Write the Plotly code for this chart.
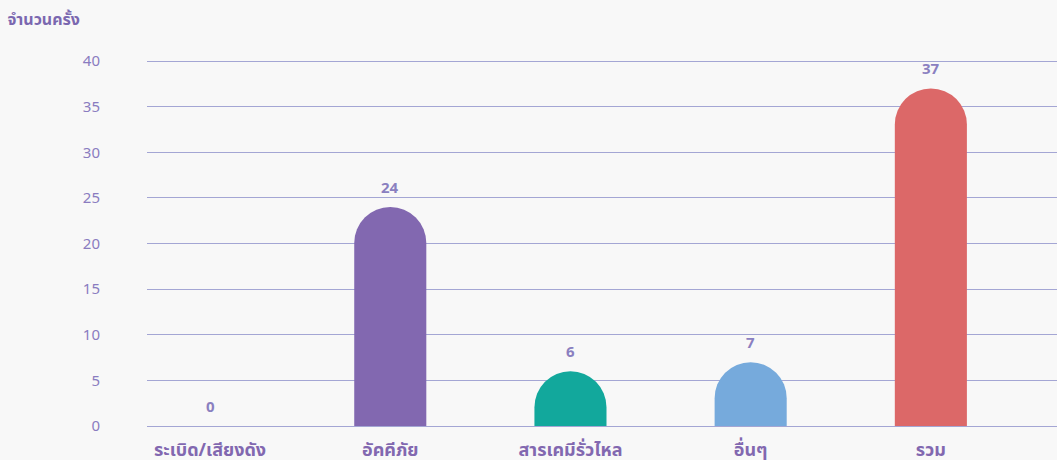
import plotly.graph_objects as go

categories = ["ระเบิด/เสียงดัง", "อัคคีภัย", "สารเคมีรั่วไหล", "อื่นๆ", "รวม"]
values = [0, 24, 6, 7, 37]
colors = ["#8268b0", "#8268b0", "#12a89c", "#76aadc", "#dc6868"]
y_ticks = [0, 5, 10, 15, 20, 25, 30, 35, 40]

FONT = "Noto Sans, Noto Sans Thai, sans-serif"
TXT = "#8a7cc0"

fig = go.Figure(go.Bar(
    x=categories, y=values,
    marker=dict(color=colors, line=dict(width=0)),
    width=0.4,
    hoverinfo="x+y",
))

for c, v in zip(categories, values):
    fig.add_annotation(
        x=c, y=v, text=f"<b>{v}</b>", showarrow=False,
        yshift=20, yanchor="middle",
        font=dict(size=15, color="#8a80c0", family=FONT),
    )

fig.update_layout(
    width=1057, height=460,
    paper_bgcolor="#f8f8f8", plot_bgcolor="#f8f8f8",
    margin=dict(l=147, r=0, t=60, b=34),
    barcornerradius="50%",
    showlegend=False,
    font=dict(family=FONT, color=TXT),
    title=dict(text="<b>จำนวนครั้ง</b>", x=0.007, xref="container", xanchor="left",
               y=0.957, yref="container", yanchor="middle",
               font=dict(size=16, color="#7b68b0", family=FONT)),
)
fig.update_xaxes(
    type="category", range=[-0.35, 4.70],
    showgrid=False, zeroline=False, showline=False, ticks="",
    tickfont=dict(size=18, color="#8268b0", family=FONT, weight="bold"),
    ticklabelstandoff=11,
)
fig.update_yaxes(
    range=[0, 40.12], tickvals=y_ticks,
    showgrid=True, gridcolor="#a4a6d4", gridwidth=1,
    zeroline=True, zerolinecolor="#a4a6d4", zerolinewidth=1,
    showline=False, ticks="",
    tickfont=dict(size=15, color=TXT, family=FONT),
    ticklabelstandoff=46,
)

fig.write_html(
    "out.html",
    config={"displayModeBar": False},
    post_script="document.body.style.margin='0';document.body.style.background='#f8f8f8';",
)
